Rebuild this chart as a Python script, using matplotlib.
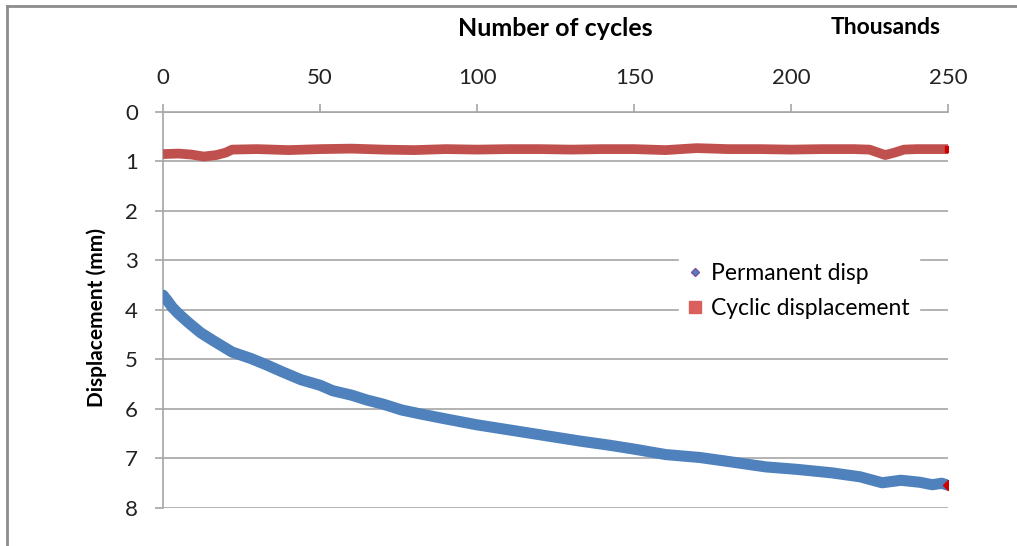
"""Permanent and cyclic displacement versus number of load cycles."""

import matplotlib

matplotlib.use("Agg")
import matplotlib.pyplot as plt
from matplotlib.lines import Line2D

plt.rcParams["font.family"] = ["Lato", "DejaVu Sans"]

# Number of cycles (thousands) and measured displacements (mm)
perm_cycles = [0, 1.5, 3, 5, 8, 12, 16, 22, 28, 33, 38, 44, 50, 54, 60, 65, 70,
               76, 82, 90, 100, 110, 118, 125, 133, 142, 150, 160, 171, 180,
               192, 202, 213, 222, 229, 235, 241, 245, 248, 250]
perm_disp = [3.70, 3.82, 3.95, 4.08, 4.25, 4.46, 4.62, 4.85, 4.98, 5.11, 5.25,
             5.41, 5.52, 5.63, 5.72, 5.82, 5.90, 6.02, 6.10, 6.20, 6.32, 6.42,
             6.50, 6.57, 6.65, 6.73, 6.81, 6.92, 6.98, 7.06, 7.17, 7.22, 7.29,
             7.37, 7.49, 7.44, 7.48, 7.53, 7.50, 7.54]

cyc_cycles = [0, 5, 9, 13, 17, 20, 22, 30, 40, 50, 60, 70, 80, 90, 100, 110,
              120, 130, 140, 150, 160, 170, 180, 190, 200, 210, 220, 225, 230,
              233, 236, 240, 250]
cyc_disp = [0.85, 0.84, 0.86, 0.90, 0.87, 0.82, 0.76, 0.75, 0.77, 0.75, 0.74,
            0.76, 0.77, 0.75, 0.76, 0.75, 0.75, 0.76, 0.75, 0.75, 0.77, 0.73,
            0.75, 0.75, 0.76, 0.75, 0.75, 0.76, 0.87, 0.82, 0.76, 0.75, 0.75]

x_ticks = [0, 50, 100, 150, 200, 250]
y_ticks = list(range(0, 9))

BLUE = "#4F81BD"
RED = "#C0504D"
GRID = "#A6A6A6"

fig = plt.figure(figsize=(10.17, 5.46), dpi=100)
ax = fig.add_axes([0.1603, 0.0696, 0.7719, 0.7253])

ax.plot(perm_cycles, perm_disp, color=BLUE, linewidth=8, solid_capstyle="round",
        solid_joinstyle="round", zorder=3)
ax.plot(cyc_cycles, cyc_disp, color=RED, linewidth=7, solid_capstyle="butt",
        zorder=3)
# last points highlighted
ax.plot(perm_cycles[-1], perm_disp[-1], marker="D", markersize=5, color="#D00000",
        linestyle="none", zorder=4)
ax.plot(cyc_cycles[-1], cyc_disp[-1], marker="s", markersize=5, color="#D00000",
        linestyle="none", zorder=4)

ax.set_xlim(0, 250)
ax.set_ylim(8, 0)
ax.xaxis.tick_top()
ax.set_xticks(x_ticks)
ax.set_yticks(y_ticks)
ax.tick_params(axis="both", colors=GRID, labelcolor="#222222", labelsize=16,
               length=6, width=1.2)
ax.tick_params(axis="x", pad=11)
ax.tick_params(axis="y", pad=12)
ax.tick_params(axis="x", which="both", bottom=False)

ax.grid(axis="y", color=GRID, linewidth=1.2)
ax.set_axisbelow(True)
for side in ("right", "bottom"):
    ax.spines[side].set_visible(False)
for side in ("left", "top"):
    ax.spines[side].set_color(GRID)
    ax.spines[side].set_linewidth(1.2)

ax.set_ylabel("Displacement (mm)", fontsize=15, fontweight="bold")
ax.yaxis.set_label_coords(-0.072, 0.48)

fig.text(555 / 1017, 1 - 28 / 546, "Number of cycles", ha="center", va="center",
         fontsize=18, fontweight="bold")
fig.text(886 / 1017, 1 - 27 / 546, "Thousands", ha="center", va="center",
         fontsize=16.5, fontweight="bold")

handles = [
    Line2D([], [], marker="D", color=BLUE, markeredgecolor="#7F4FA0",
           markersize=4, linestyle="none", label="Permanent disp"),
    Line2D([], [], marker="s", color="#D9605C", markersize=8, linestyle="none",
           label="Cyclic displacement"),
]
leg = ax.legend(handles=handles, loc="upper left", bbox_to_anchor=(0.643, 0.67),
                frameon=True, fontsize=16.5, handlelength=0.6, handletextpad=0.4,
                labelspacing=0.6, borderpad=0.4)
leg.get_frame().set_edgecolor("white")
leg.get_frame().set_facecolor("white")
leg.get_frame().set_alpha(1)

# chart area border
fig.add_artist(Line2D([7 / 1017, 7 / 1017], [0, 1 - 6 / 546], color="#8C8C8C",
                      linewidth=2))
fig.add_artist(Line2D([7 / 1017, 1], [1 - 6 / 546, 1 - 6 / 546], color="#8C8C8C",
                      linewidth=2))

fig.savefig("out.png", dpi=100)
